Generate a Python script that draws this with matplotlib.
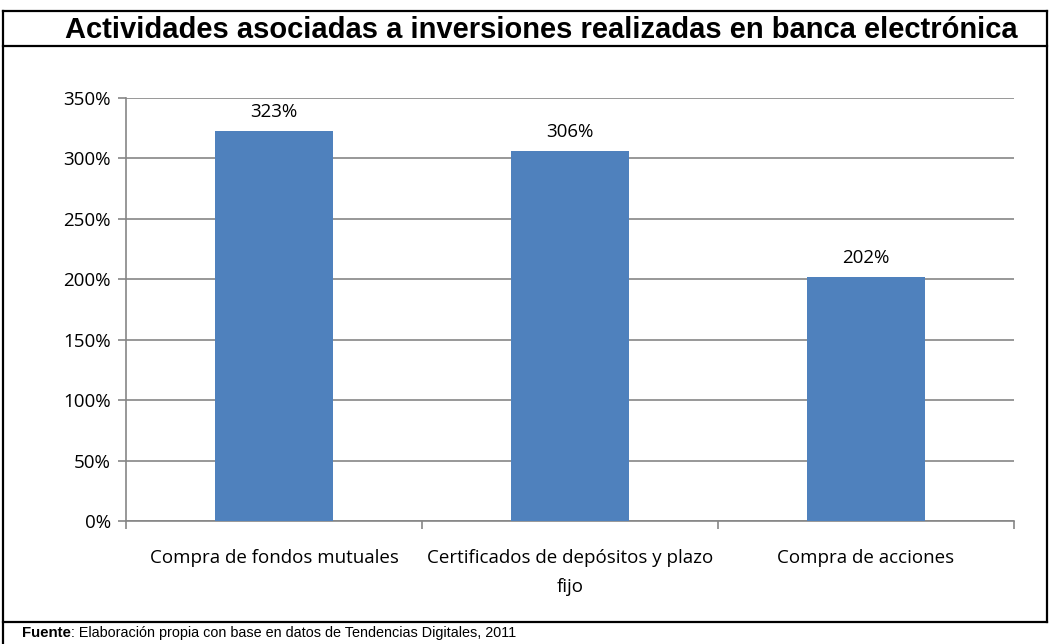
import matplotlib
matplotlib.use("Agg")
import matplotlib.pyplot as plt
from matplotlib.lines import Line2D

categories = ["Compra de fondos mutuales", "Certificados de depósitos y plazo\nfijo", "Compra de acciones"]
values = [3.23, 3.06, 2.02]
value_labels = ["323%", "306%", "202%"]
yticks = [0, 0.5, 1.0, 1.5, 2.0, 2.5, 3.0, 3.5]
ytick_labels = ["0%", "50%", "100%", "150%", "200%", "250%", "300%", "350%"]
title = "Actividades asociadas a inversiones realizadas en banca electrónica"
source_bold = "Fuente"
source_rest = ": Elaboración propia con base en datos de Tendencias Digitales, 2011"

W, H = 1050, 644
fig = plt.figure(figsize=(W / 100, H / 100), dpi=100)

def fx(px):
    return px / W

def fy(py):
    return 1 - py / H

# frame lines
lw = 1.6
for (x0, y0, x1, y1) in [
    (3, 11, 1047, 11),
    (3, 46, 1047, 46),
    (3, 622, 1047, 622),
    (3, 11, 3, 644),
    (1047, 11, 1047, 622),
]:
    fig.add_artist(Line2D([fx(x0), fx(x1)], [fy(y0), fy(y1)], color="black", lw=lw,
                          transform=fig.transFigure))

fig.text(fx(541), fy(30), title, ha="center", va="center", fontsize=21,
         fontweight="bold", family="Liberation Sans")

tick_font = dict(family="Open Sans", fontsize=13.5)

ax = fig.add_axes([fx(126), fy(521), fx(1014) - fx(126), fy(98) - fy(521)])
x = list(range(len(categories)))
ax.bar(x, values, width=0.4, color="#4F81BD", zorder=3)
ax.set_xlim(-0.5, len(categories) - 0.5)
ax.set_ylim(0, 3.5)
ax.set_yticks(yticks)
ax.set_yticklabels(ytick_labels, **tick_font)
ax.yaxis.grid(True, color="#868686", lw=1.2, zorder=0)
ax.set_axisbelow(True)
for s in ["top", "right"]:
    ax.spines[s].set_visible(False)
for s in ["left", "bottom"]:
    ax.spines[s].set_color("#868686")
    ax.spines[s].set_linewidth(1.2)
ax.tick_params(axis="y", length=6, color="#868686", width=1.2, pad=5)
ax.set_xticks([-0.5, 0.5, 1.5, 2.5])
ax.set_xticklabels([])
ax.tick_params(axis="x", length=6, color="#868686", width=1.2, direction="out")
for i, c in enumerate(categories):
    ax.text(i, -0.23, c, ha="center", va="top", linespacing=1.8, **tick_font)
for i, (v, lab) in enumerate(zip(values, value_labels)):
    ax.text(i, v + 0.155, lab, ha="center", va="center", **tick_font)

t1 = fig.text(fx(22), fy(633), source_bold, ha="left", va="center", fontsize=10.8,
              fontweight="bold", family="Liberation Sans")
fig.canvas.draw()
bb = t1.get_window_extent()
fig.text(bb.x1 / W, fy(633), source_rest, ha="left", va="center", fontsize=10.4,
         family="Liberation Sans")

fig.savefig("out.png", dpi=100)
